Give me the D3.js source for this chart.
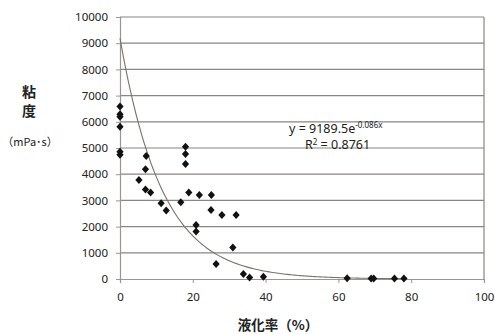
<!DOCTYPE html>
<html>
<head>
<meta charset="utf-8">
<script src="https://cdn.jsdelivr.net/npm/d3@7"></script>
<style>
  body { margin: 0; background: #fff; }
  text { font-family: "Noto Sans", "Liberation Sans", sans-serif; fill: #222; }
  .jp { font-family: "Noto Sans CJK JP", sans-serif; }
</style>
</head>
<body>
<div id="chart"></div>
<script>
// liquefaction rate (%) and viscosity (mPa·s)
var rate = [0, 0, 0, 0, 0, 0, 5.2, 7.0, 7.0, 7.2, 8.4, 11.3, 12.7, 16.7, 18, 18, 18,
  18.9, 20.9, 20.9, 21.8, 25.0, 25.1, 26.4, 28, 31, 31.9, 33.9, 35.6, 39.4,
  62.4, 69, 69.7, 75.4, 78];
var viscosity = [6580, 6290, 6195, 5810, 4860, 4740, 3780, 4190, 3420, 4690, 3300, 2890, 2610, 2930, 5050, 4770, 4390,
  3300, 2060, 1810, 3210, 2630, 3210, 570, 2440, 1200, 2440, 190, 60, 90,
  25, 20, 20, 15, 15];
var xTicks = [0, 20, 40, 60, 80, 100];
var yTicks = d3.range(0, 10001, 1000);
var fitA = 9189.5, fitB = -0.086;

var width = 495, height = 334;
var svg = d3.select("#chart").append("svg")
  .attr("width", width)
  .attr("height", height);

var x = d3.scaleLinear().domain([0, 100]).range([120, 484]);
var y = d3.scaleLinear().domain([0, 10000]).range([279, 17]);

// horizontal grid
svg.append("g")
  .selectAll("line")
  .data(yTicks.slice(1))
  .enter().append("line")
  .attr("x1", x(0)).attr("x2", x(100))
  .attr("y1", d => y(d)).attr("y2", d => y(d))
  .attr("stroke", "#8a8582")
  .attr("stroke-width", 1.2);

// right border
svg.append("line")
  .attr("x1", x(100)).attr("x2", x(100))
  .attr("y1", y(0)).attr("y2", y(10000))
  .attr("stroke", "#8a8582").attr("stroke-width", 1.2);

// axes
var xAxis = d3.axisBottom(x).tickValues(xTicks).tickSize(4).tickPadding(8).tickFormat(d3.format("d"));
var yAxis = d3.axisLeft(y).tickValues(yTicks).tickSize(4).tickPadding(8).tickFormat(d3.format("d"));

var gx = svg.append("g")
  .attr("transform", "translate(0," + y(0) + ")")
  .call(xAxis);
var gy = svg.append("g")
  .attr("transform", "translate(" + x(0) + ",0)")
  .call(yAxis);

[gx, gy].forEach(function(g) {
  g.select(".domain").attr("stroke", "#9a9592").attr("stroke-width", 1.2);
  g.selectAll(".tick line").attr("stroke", "#9a9592");
  g.selectAll(".tick text")
    .style("font-size", "11.5px")
    .style("font-family", "'Noto Sans', sans-serif")
    .attr("fill", "#222");
});
gx.selectAll(".tick text").attr("dy", "0.9em");

// trend line
var fitX = d3.range(0, 78.01, 0.5);
var line = d3.line()
  .x(d => x(d))
  .y(d => y(fitA * Math.exp(fitB * d)));
svg.append("path")
  .datum(fitX)
  .attr("d", line)
  .attr("fill", "none")
  .attr("stroke", "#7d7068")
  .attr("stroke-width", 1.1);

// points
svg.append("g")
  .selectAll("path")
  .data(rate)
  .enter().append("path")
  .attr("d", "M0,-4L3.6,0L0,4L-3.6,0Z")
  .attr("transform", (d, i) => "translate(" + x(d) + "," + y(viscosity[i]) + ")")
  .attr("fill", "#111");

// equation
var eq = svg.append("text")
  .attr("x", 289).attr("y", 133)
  .style("font-size", "12.5px");
eq.append("tspan").text("y = 9189.5e");
eq.append("tspan").attr("dy", "-5").style("font-size", "8px").text("-0.086x");

var r2 = svg.append("text")
  .attr("x", 305).attr("y", 149)
  .style("font-size", "12.5px");
r2.append("tspan").text("R");
r2.append("tspan").attr("dy", "-4").style("font-size", "8px").text("2");
r2.append("tspan").attr("dy", "4").text(" = 0.8761");

// axis titles
svg.append("text").attr("class", "jp")
  .attr("x", 29).attr("y", 97)
  .attr("text-anchor", "middle")
  .style("font-size", "14px").style("font-weight", "bold")
  .text("粘");
svg.append("text").attr("class", "jp")
  .attr("x", 29).attr("y", 116)
  .attr("text-anchor", "middle")
  .style("font-size", "14px").style("font-weight", "bold")
  .text("度");
svg.append("text").attr("class", "jp")
  .attr("x", 30).attr("y", 146)
  .attr("text-anchor", "middle")
  .style("font-size", "11px")
  .text("（mPa･s）");

svg.append("text").attr("class", "jp")
  .attr("x", 278).attr("y", 330)
  .attr("text-anchor", "middle")
  .style("font-size", "13.5px").style("font-weight", "bold")
  .text("液化率（%）");
</script>
</body>
</html>
